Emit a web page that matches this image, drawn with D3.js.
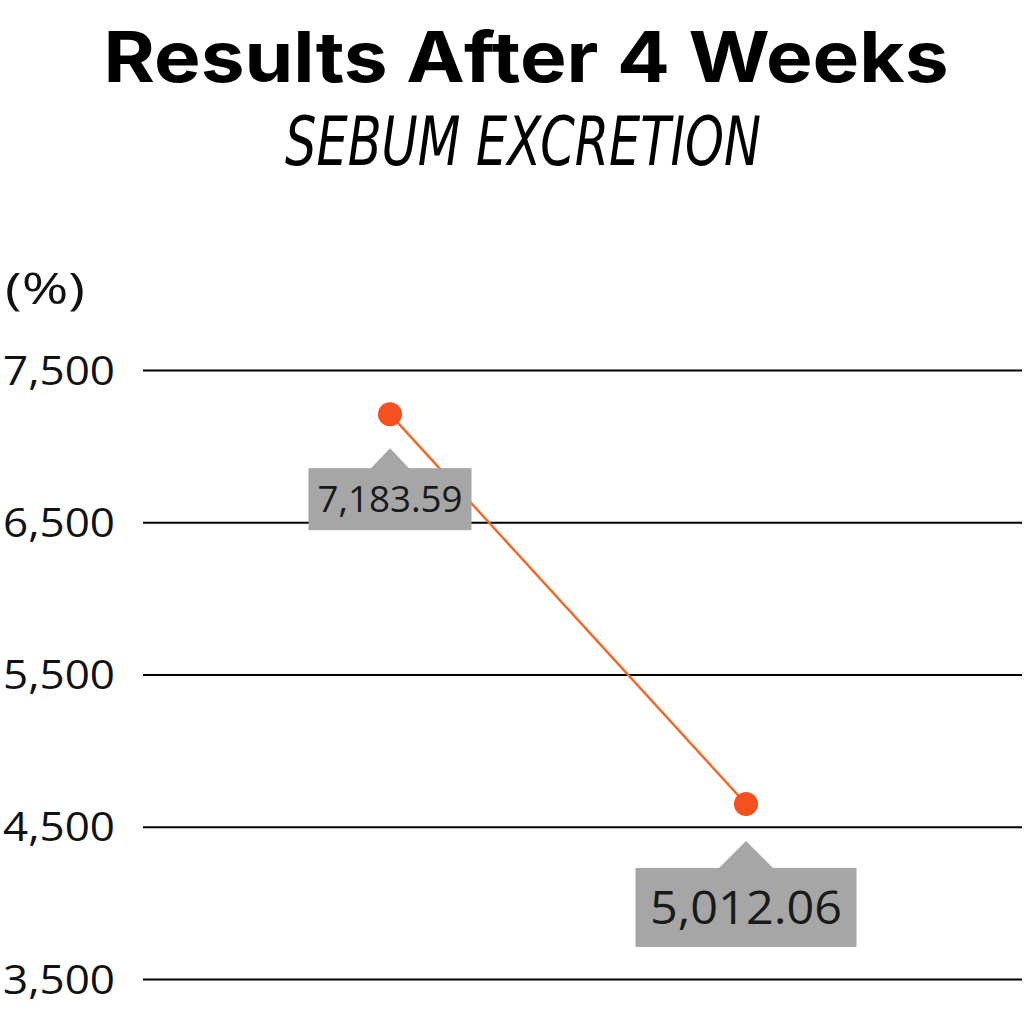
<!DOCTYPE html>
<html>
<head>
<meta charset="utf-8">
<script src="https://cdn.jsdelivr.net/npm/d3@7"></script>
<style>
  html, body { margin: 0; padding: 0; background: #fff; }
</style>
</head>
<body>
<div id="chart"></div>
<script>
// data
const periods = ['Baseline', 'Week 4'];
const sebumValues = [7210, 4650];           // plotted position of each dot
const valueLabels = ['7,183.59', '5,012.06']; // text printed in the call-outs
const yTicks = [3500, 4500, 5500, 6500, 7500];

const width = 1024;
const height = 1024;
const margin = { top: 370, right: 2, bottom: 45, left: 143 };

const svg = d3.select('#chart').append('svg')
  .attr('width', width)
  .attr('height', height);

svg.append('rect').attr('width', width).attr('height', height).attr('fill', '#fff');

// titles
svg.append('text')
  .attr('x', 526).attr('y', 82)
  .attr('text-anchor', 'middle')
  .attr('font-family', 'Inter, "Open Sans", sans-serif')
  .attr('font-weight', 700)
  .attr('font-size', 70)
  .attr('textLength', 845)
  .attr('lengthAdjust', 'spacingAndGlyphs')
  .attr('fill', '#000')
  .text('Results After 4 Weeks');

svg.append('text')
  .attr('x', 523).attr('y', 165)
  .attr('text-anchor', 'middle')
  .attr('font-family', '"Liberation Sans Narrow", "DejaVu Sans Condensed", sans-serif')
  .attr('font-style', 'italic')
  .attr('font-weight', 300)
  .attr('font-size', 68)
  .attr('textLength', 476)
  .attr('lengthAdjust', 'spacingAndGlyphs')
  .attr('fill', '#000')
  .text('SEBUM EXCRETION');

const y = d3.scaleLinear()
  .domain([3500, 7500])
  .range([height - margin.bottom, margin.top]);

const x = d3.scalePoint()
  .domain(periods)
  .range([390, 746]);

// unit label
svg.append('text')
  .attr('x', 5).attr('y', 304)
  .attr('font-family', '"Open Sans", Lato, sans-serif')
  .attr('font-size', 44)
  .attr('textLength', 80)
  .attr('lengthAdjust', 'spacingAndGlyphs')
  .attr('fill', '#111')
  .text('(%)');

// grid + y labels
const yAxis = svg.append('g')
  .attr('class', 'axis axis--y')
  .attr('transform', `translate(${margin.left},0)`)
  .call(d3.axisLeft(y)
    .tickValues(yTicks)
    .tickFormat(d3.format(','))
    .tickSize(-(width - margin.left - margin.right))
    .tickPadding(28));

yAxis.select('.domain').remove();
yAxis.selectAll('line').attr('stroke', '#000').attr('stroke-width', 2.2);
yAxis.selectAll('text')
  .attr('font-family', '"Open Sans", Lato, sans-serif')
  .attr('font-size', 40)
  .attr('fill', '#111')
  .attr('text-anchor', 'start')
  .attr('x', -margin.left + 3)
  .attr('dy', '0.35em')
  .attr('textLength', 112)
  .attr('lengthAdjust', 'spacingAndGlyphs');

const points = periods.map((p, i) => ({ period: p, value: sebumValues[i], label: valueLabels[i] }));

// line
svg.append('path')
  .datum(points)
  .attr('fill', 'none')
  .attr('stroke', '#f26a2a')
  .attr('stroke-width', 2.5)
  .attr('d', d3.line().x(d => x(d.period)).y(d => y(d.value)));

svg.selectAll('circle.dot')
  .data(points)
  .enter().append('circle')
  .attr('class', 'dot')
  .attr('cx', d => x(d.period))
  .attr('cy', d => y(d.value))
  .attr('r', 12)
  .attr('fill', '#f4511e');

// call-outs
const callouts = [
  { gap: 34, w: 163, h: 62, fs: 36, tl: 145, tri: 20, triH: 20 },
  { gap: 37, w: 221, h: 79, fs: 46, tl: 192, tri: 28, triH: 27 }
];

points.forEach((d, i) => {
  const c = callouts[i];
  const cx = x(d.period);
  const apex = y(d.value) + c.gap;
  const top = apex + c.triH;
  const g = svg.append('g');
  g.append('path')
    .attr('d', `M${cx - c.tri},${top + 1}L${cx},${apex}L${cx + c.tri},${top + 1}Z`)
    .attr('fill', '#a6a6a6');
  g.append('rect')
    .attr('x', cx - c.w / 2)
    .attr('y', top)
    .attr('width', c.w)
    .attr('height', c.h)
    .attr('fill', '#a6a6a6');
  g.append('text')
    .attr('x', cx)
    .attr('y', top + c.h / 2)
    .attr('dy', '0.36em')
    .attr('text-anchor', 'middle')
    .attr('font-family', '"Open Sans", Lato, sans-serif')
    .attr('font-size', c.fs)
    .attr('textLength', c.tl)
    .attr('lengthAdjust', 'spacingAndGlyphs')
    .attr('fill', '#1a1a1a')
    .text(d.label);
});
</script>
</body>
</html>
